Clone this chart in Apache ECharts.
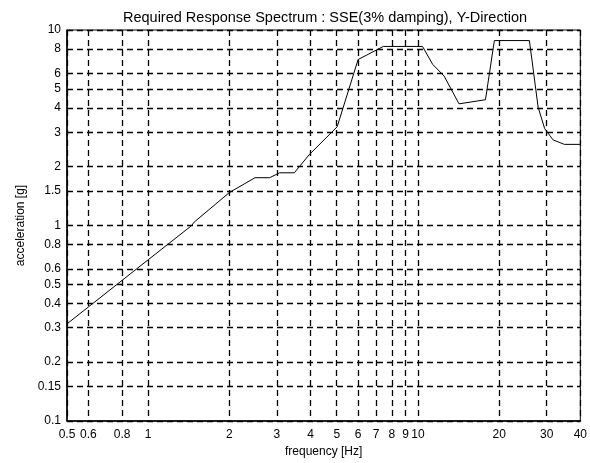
<!DOCTYPE html>
<html>
<head>
<meta charset="utf-8">
<script src="https://cdn.jsdelivr.net/npm/echarts@6/dist/echarts.min.js"></script>
<style>html,body{margin:0;padding:0;background:#fff}#c{width:590px;height:463px}</style>
</head>
<body>
<div id="c"></div>
<script>
const freq  = [0.5, 1, 1.45, 1.48, 2, 2.49, 2.82, 3.07, 3.48, 3.95, 5.02, 6.0, 7.44, 10.4, 11.35, 12.5, 14.2, 17.8, 19.2, 25.9, 27.9, 29.5, 31.7, 34.9, 40];
const accel = [0.314, 0.668, 1.0, 1.04, 1.475, 1.756, 1.756, 1.86, 1.86, 2.30, 3.2, 7.06, 8.24, 8.24, 6.66, 5.82, 4.19, 4.40, 8.83, 8.83, 4.03, 3.13, 2.74, 2.60, 2.6];
const xTicks = [0.5, 0.6, 0.8, 1, 2, 3, 4, 5, 6, 7, 8, 9, 10, 20, 30, 40];
const yTicks = [0.1, 0.15, 0.2, 0.3, 0.4, 0.5, 0.6, 0.8, 1, 1.5, 2, 3, 4, 5, 6, 8, 10];

const L = Math.log10;
function lbl(v){ const p = Math.pow(10, v); return String(parseFloat(p.toPrecision(3))); }

const chart = echarts.init(document.getElementById('c'), null, {renderer: 'canvas'});
const font = 'Liberation Sans, Arial, sans-serif';
chart.setOption({
  animation: false,
  title: {
    text: 'Required Response Spectrum : SSE(3% damping), Y-Direction',
    left: 320, top: 5, textAlign: 'center',
    textStyle: {fontFamily: font, fontSize: 14.5, fontWeight: 'normal', color: '#000'}
  },
  grid: {left: 67, right: 7, top: 30, bottom: 36, show: true, borderColor: '#000', borderWidth: 1},
  xAxis: {
    type: 'value', min: L(0.5), max: L(40),
    name: 'frequency [Hz]', nameLocation: 'middle', nameGap: 25,
    nameTextStyle: {fontFamily: font, fontSize: 12, color: '#000'},
    axisLine: {show: true, onZero: false, lineStyle: {color: '#000', width: 1.5}},
    axisTick: {show: false, customValues: xTicks.map(L)},
    axisLabel: {customValues: xTicks.map(L), formatter: lbl, fontFamily: font, fontSize: 12, color: '#000', margin: 8},
    splitLine: {show: true, lineStyle: {color: '#000', type: [6, 4], width: 1.3}}
  },
  yAxis: {
    type: 'value', min: L(0.1), max: L(10),
    name: 'acceleration [g]', nameLocation: 'middle', nameGap: 36, nameRotate: 90,
    nameTextStyle: {fontFamily: font, fontSize: 12, color: '#000'},
    axisLine: {show: true, onZero: false, lineStyle: {color: '#000', width: 1.5}},
    axisTick: {show: false, customValues: yTicks.map(L)},
    axisLabel: {customValues: yTicks.map(L), formatter: lbl, fontFamily: font, fontSize: 12, color: '#000', margin: 6},
    splitLine: {show: true, lineStyle: {color: '#000', type: [6, 4], width: 1.3}}
  },
  series: [{
    type: 'line', symbol: 'none',
    data: freq.map((f, i) => [L(f), L(accel[i])]),
    lineStyle: {color: '#000', width: 1}
  }]
});
</script>
</body>
</html>
